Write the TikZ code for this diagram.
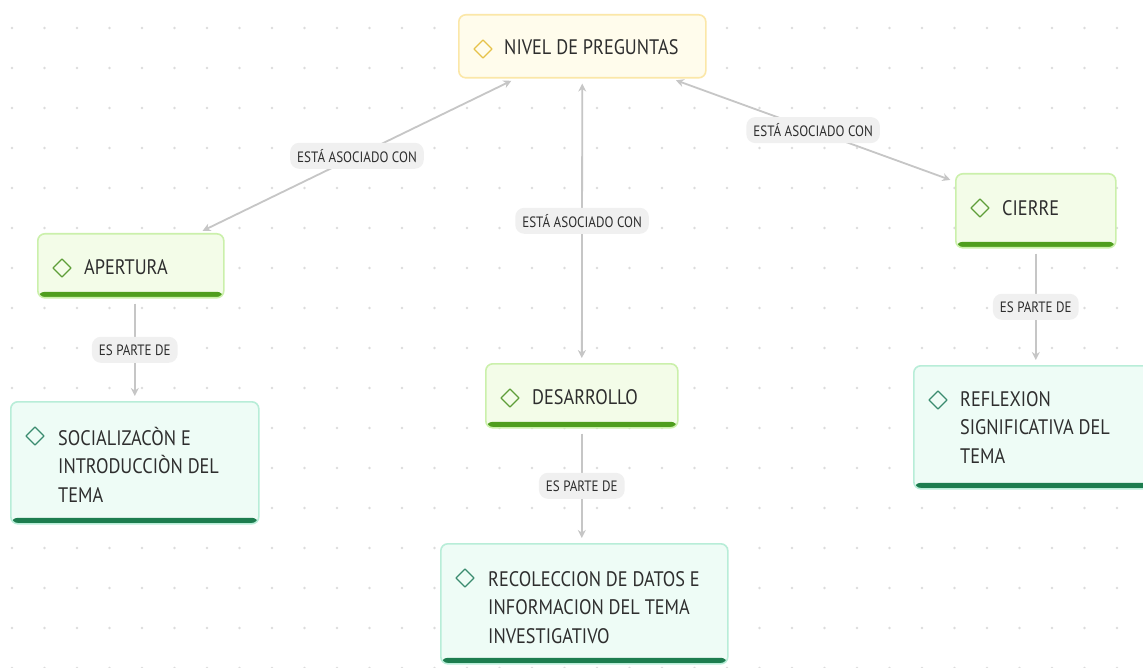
\documentclass[tikz,border=0pt]{standalone}
\usepackage{fontspec}
\setmainfont{PT Sans}[FakeStretch=0.87]
\usepackage{xcolor}
\usepackage{tikz}
\usetikzlibrary{calc,arrows.meta}
\usetikzlibrary{positioning}

\definecolor{ink}{HTML}{2E2E2E}
\definecolor{dotgray}{HTML}{DCDCDC}
\definecolor{linkgray}{HTML}{C6C6C6}
\definecolor{pillgray}{HTML}{F0F0F0}
\definecolor{yfill}{HTML}{FFFCEC}
\definecolor{yline}{HTML}{FBE7A8}
\definecolor{ybar}{HTML}{F4BF1C}
\definecolor{yicon}{HTML}{E6C24A}
\definecolor{gfill}{HTML}{F3FCE8}
\definecolor{gline}{HTML}{CBF0AB}
\definecolor{gbar}{HTML}{4F9E1E}
\definecolor{gicon}{HTML}{5E9E38}
\definecolor{mfill}{HTML}{EEFCF6}
\definecolor{mline}{HTML}{B8EDD8}
\definecolor{mbar}{HTML}{1D7D4F}
\definecolor{micon}{HTML}{3A8B6F}

\tikzset{
  box/.style={rounded corners=7pt, line width=1.6pt, anchor=north west, inner sep=0pt},
  barfill/.style={path picture={\fill[#1] (path picture bounding box.south west) rectangle ($(path picture bounding box.south east)+(0,-6)$);}},
  ybox/.style={box, draw=yline, fill=yfill, barfill=ybar},
  gbox/.style={box, draw=gline, fill=gfill, barfill=gbar},
  mbox/.style={box, draw=mline, fill=mfill, barfill=mbar},
  txt/.style={anchor=base west, inner sep=0pt, align=left, text=ink, font=\fontsize{21}{28.5}\selectfont},
  icon/.style={draw=#1, line width=1.3pt, line join=round},
  link/.style={draw=linkgray, line width=1.8pt, shorten <=5pt, shorten >=5pt},
  pill/.style={fill=pillgray, rounded corners=9pt, text=ink, inner xsep=7pt, minimum height=26pt, font=\fontsize{15}{18}\selectfont}
}

\begin{document}
\begin{tikzpicture}[x=1pt, y=-1pt, >={Stealth[length=8pt,width=8pt]}]
  \path[use as bounding box, fill=white] (0,0) rectangle (1143,668);

  % dotted grid
  \foreach \i in {0,...,35}
    \foreach \j in {0,...,16}
      \fill[dotgray] (12+32.5*\i,28+40*\j) circle (1.3pt);

  % boxes
  \node[ybox, minimum width=247pt, minimum height=63pt] (nivel) at (458,14) {};
  \node[gbox, minimum width=186pt, minimum height=64pt] (apertura) at (37,233) {};
  \node[gbox, minimum width=192pt, minimum height=64pt] (desarrollo) at (485,363) {};
  \node[gbox, minimum width=160pt, minimum height=74pt] (cierre) at (955,173) {};
  \node[mbox, minimum width=248pt, minimum height=122pt] (socializacion) at (10,401) {};
  \node[mbox, minimum width=287pt, minimum height=120pt] (recoleccion) at (440,543) {};
  \node[mbox, minimum width=245pt, minimum height=123pt] (reflexion) at (913,365) {};

  % icons
  \foreach \n/\c in {nivel/yicon, apertura/gicon, desarrollo/gicon, cierre/gicon,
                     socializacion/micon, recoleccion/micon, reflexion/micon}
    \draw[icon=\c] ($(\n.north west)+(25,35)$) +(-9,0) -- +(0,-9) -- +(9,0) -- +(0,9) -- cycle;

  % texts (base = last line)
  \node[txt] (nivel-t) at ($(nivel.north west)+(46,41)$) {NIVEL DE PREGUNTAS};
  \node[txt] (apertura-t) at ($(apertura.north west)+(47,42)$) {APERTURA};
  \node[txt] (desarrollo-t) at ($(desarrollo.north west)+(47,41)$) {DESARROLLO};
  \node[txt] (cierre-t) at ($(cierre.north west)+(47,43)$) {CIERRE};
  \node[txt] (socializacion-t) at ($(socializacion.north west)+(48,101)$) {SOCIALIZACÒN E\\INTRODUCCIÒN DEL\\TEMA};
  \node[txt] (recoleccion-t) at ($(recoleccion.north west)+(48,100)$) {RECOLECCION DE DATOS E\\INFORMACION DEL TEMA\\INVESTIGATIVO};
  \node[txt] (reflexion-t) at ($(reflexion.north west)+(47,98)$) {REFLEXION\\SIGNIFICATIVA DEL\\TEMA};

  % connectors
  \draw[link, <->] (nivel) -- node[pill] (asoc1) {ESTÁ ASOCIADO CON} (apertura);
  \draw[link, <->] (nivel) -- node[pill] (asoc2) {ESTÁ ASOCIADO CON} (desarrollo);
  \draw[link, <->] (nivel) -- node[pill] (asoc3) {ESTÁ ASOCIADO CON} (cierre);
  \draw[link, ->] (apertura.south -| socializacion.north) -- node[pill] (parte1) {ES PARTE DE} (socializacion.north);
  \draw[link, ->] (desarrollo.south) -- node[pill] (parte2) {ES PARTE DE} (desarrollo.south |- recoleccion.north);
  \draw[link, ->] (cierre.south) -- node[pill] (parte3) {ES PARTE DE} (cierre.south |- reflexion.north);
\end{tikzpicture}
\end{document}
